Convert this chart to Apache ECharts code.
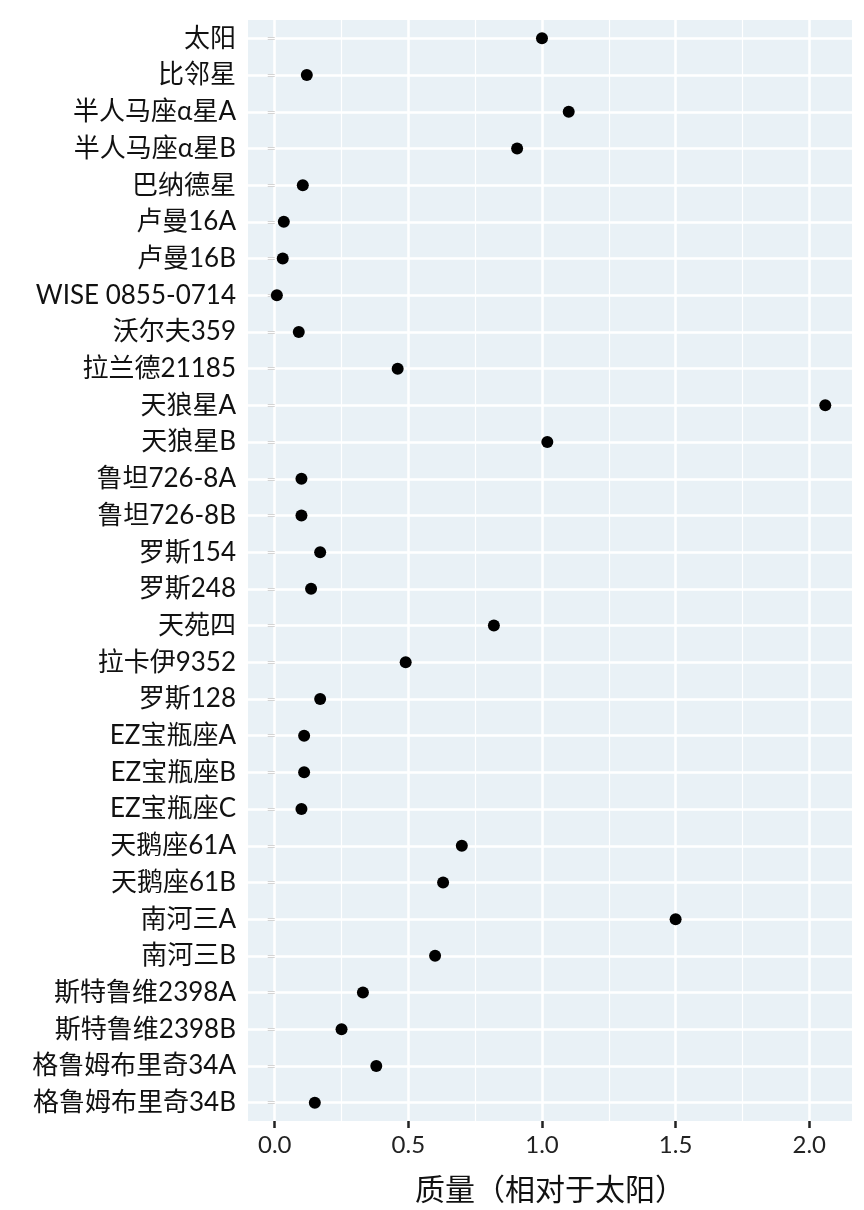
<!DOCTYPE html>
<html>
<head>
<meta charset="utf-8">
<script src="https://cdn.jsdelivr.net/npm/echarts@6/dist/echarts.min.js"></script>
<style>html,body{margin:0;padding:0;background:#fff}#chart{width:864px;height:1210px}</style>
</head>
<body>
<div id="chart"></div>
<script>
var stars = ['太阳','比邻星','半人马座α星A','半人马座α星B','巴纳德星','卢曼16A','卢曼16B','WISE 0855-0714','沃尔夫359','拉兰德21185',
    '天狼星A','天狼星B','鲁坦726-8A','鲁坦726-8B','罗斯154','罗斯248','天苑四','拉卡伊9352','罗斯128','EZ宝瓶座A',
    'EZ宝瓶座B','EZ宝瓶座C','天鹅座61A','天鹅座61B','南河三A','南河三B','斯特鲁维2398A','斯特鲁维2398B','格鲁姆布里奇34A','格鲁姆布里奇34B'];
var masses = [1.0, 0.12, 1.10, 0.907, 0.105, 0.034, 0.030, 0.008, 0.09, 0.46,
    2.06, 1.02, 0.10, 0.10, 0.17, 0.136, 0.82, 0.49, 0.17, 0.11,
    0.11, 0.10, 0.70, 0.63, 1.50, 0.60, 0.33, 0.25, 0.38, 0.15];
var minorTicks = [0.25, 0.75, 1.25, 1.75];

var font = "Lato, 'Noto Sans CJK SC', sans-serif";
var chart = echarts.init(document.getElementById('chart'));
var option = {
    animation: false,
    grid: {left: 248, right: 12, top: 20, bottom: 83, show: true,
        backgroundColor: '#e9f1f6', borderWidth: 0},
    xAxis: {
        type: 'value', min: -0.1, max: 2.16,
        name: '质量（相对于太阳）', nameLocation: 'middle', nameGap: 54,
        nameTextStyle: {fontSize: 30, color: '#111', fontFamily: font},
        axisLine: {show: false},
        axisTick: {show: true, length: 7, lineStyle: {color: '#222', width: 2.5}},
        axisLabel: {fontSize: 24, color: '#222', fontFamily: font, margin: 12,
            showMinLabel: false, showMaxLabel: false,
            formatter: function (v) { return v.toFixed(1); }},
        splitLine: {show: true, showMinLine: false, showMaxLine: false,
            lineStyle: {color: '#fff', width: 2.5}}
    },
    yAxis: {
        type: 'category', data: stars, inverse: true,
        axisLine: {show: false},
        axisTick: {show: true, alignWithLabel: true, length: 7, lineStyle: {color: '#222', width: 2.5}},
        axisLabel: {fontSize: 26, color: '#111', fontFamily: font, margin: 12},
        splitLine: {show: false}
    },
    series: [{
        type: 'scatter',
        data: masses.map(function (m, i) { return [m, stars[i]]; }),
        symbolSize: 12,
        itemStyle: {color: '#000', opacity: 1},
        z: 5,
        markLine: {
            silent: true, symbol: 'none', label: {show: false},
            lineStyle: {color: '#fff', type: 'solid', width: 2.5, opacity: 1},
            data: stars.map(function (s) { return {yAxis: s}; })
        }
    }, {
        type: 'scatter', data: [],
        markLine: {
            silent: true, symbol: 'none', label: {show: false},
            lineStyle: {color: '#fff', type: 'solid', width: 1.2, opacity: 1},
            data: minorTicks.map(function (v) { return {xAxis: v}; })
        }
    }]
};
chart.setOption(option);
</script>
</body>
</html>
